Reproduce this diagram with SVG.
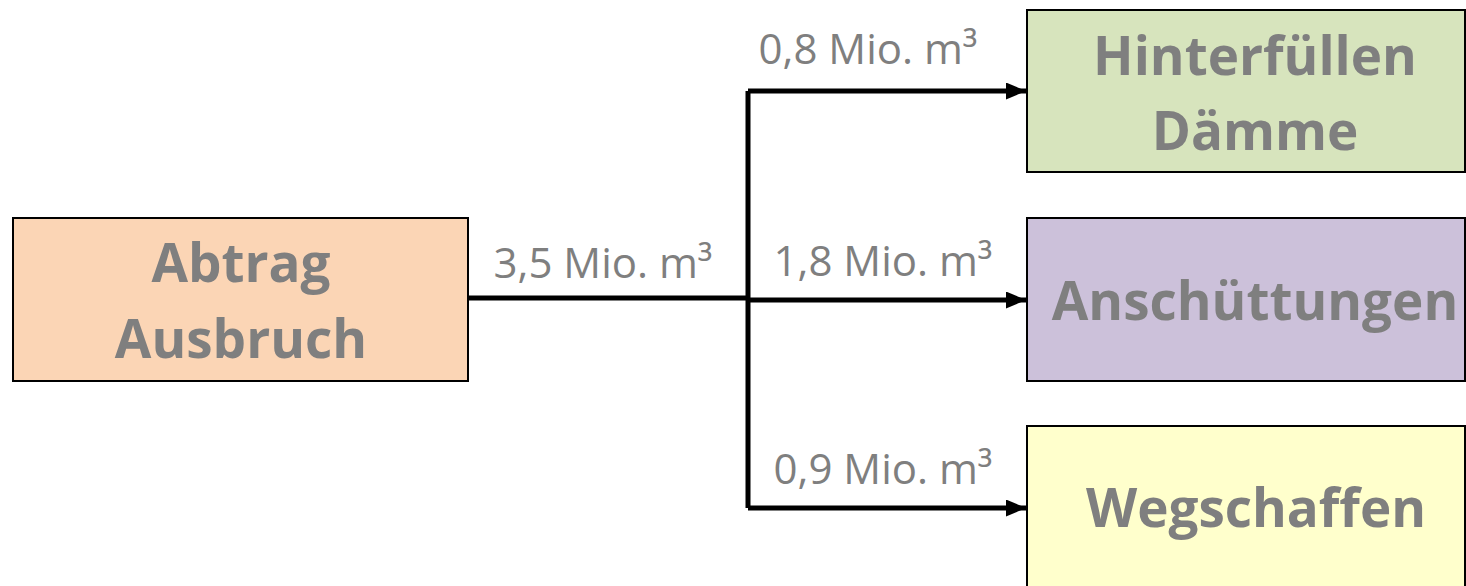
<svg xmlns="http://www.w3.org/2000/svg" width="1466" height="586" viewBox="0 0 1466 586">
<style>
.box{stroke:#000;stroke-width:2}
.t{font-family:"Open Sans","Liberation Sans",sans-serif;font-weight:bold;font-size:53px;fill:#7f7f7f;text-anchor:middle}
.l{font-family:"Open Sans","Liberation Sans",sans-serif;font-size:42px;fill:#7f7f7f;text-anchor:middle}
.c{stroke:#000;stroke-width:5;fill:none}
</style>
<defs>
<marker id="ah" markerWidth="4" markerHeight="3.4" refX="4" refY="1.7" orient="auto" markerUnits="strokeWidth">
<path d="M0,0 L4,1.7 L0,3.4 Z" fill="#000"/>
</marker>
</defs>
<rect width="1466" height="586" fill="#fff"/>
<g id="connectors">
<path class="c" d="M468,298 H748"/>
<path class="c" d="M748,91 V508"/>
<path class="c" d="M748,91 H1026" marker-end="url(#ah)"/>
<path class="c" d="M748,300 H1026" marker-end="url(#ah)"/>
<path class="c" d="M748,508 H1026" marker-end="url(#ah)"/>
<text class="l" x="603" y="278">3,5 Mio. m³</text>
<text class="l" x="868" y="64">0,8 Mio. m³</text>
<text class="l" x="883" y="276">1,8 Mio. m³</text>
<text class="l" x="883" y="484">0,9 Mio. m³</text>
</g>
<g id="abtrag">
<rect class="box" x="13" y="218" width="455" height="163" fill="#fbd5b5"/>
<text class="t" x="241" y="282">Abtrag</text>
<text class="t" x="241" y="358">Ausbruch</text>
</g>
<g id="hinterfuellen">
<rect class="box" x="1027" y="10" width="438" height="162" fill="#d7e4bd"/>
<text class="t" x="1255" y="75">Hinterfüllen</text>
<text class="t" x="1255" y="150">Dämme</text>
</g>
<g id="anschuettungen">
<rect class="box" x="1027" y="218" width="438" height="163" fill="#ccc1da"/>
<text class="t" x="1255" y="320">Anschüttungen</text>
</g>
<g id="wegschaffen">
<rect class="box" x="1027" y="426" width="438" height="170" fill="#ffffcc"/>
<text class="t" x="1256" y="527">Wegschaffen</text>
</g>
</svg>
